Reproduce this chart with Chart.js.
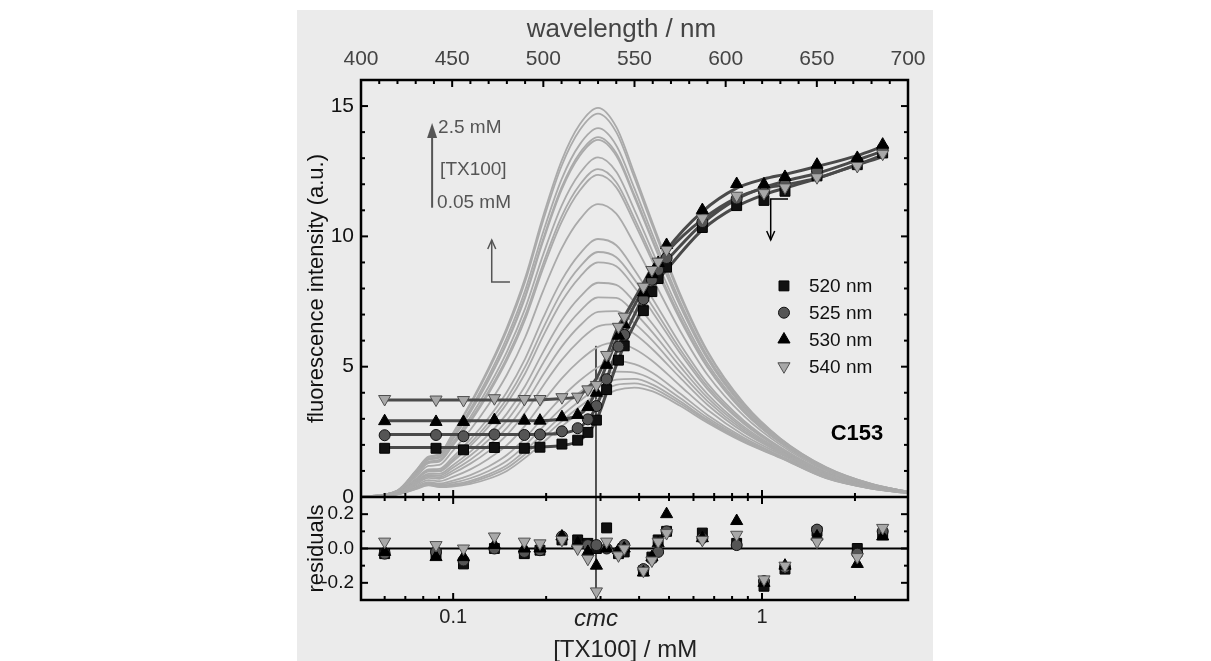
<!DOCTYPE html>
<html>
<head>
<meta charset="utf-8">
<script src="https://cdn.jsdelivr.net/npm/chart.js@4.4.1/dist/chart.umd.min.js"></script>
<style>
  html, body { margin: 0; padding: 0; background: #fff; }
  #panel { position: absolute; left: 297px; top: 10px; width: 636px; height: 651px; background: #ebebeb; }
  #chart { position: absolute; left: 0; top: 0; }
</style>
</head>
<body>
<div id="panel"></div>
<canvas id="chart" width="1211" height="661"></canvas>
<script>
// emission spectra (top axis, nm) for increasing [TX100]
const wavelengths = [400, 420, 430, 437, 443, 450, 460, 470, 480, 490, 500, 510, 520, 530, 540, 550, 560, 575, 590, 610, 630, 655, 680, 700];
const spectra = [
  [0,0.1,0.3,0.45,0.38,0.4,0.5,0.7,1.0,1.5,2.1,2.7,3.25,3.75,4.1,4.2,4.05,3.5,2.85,2.1,1.5,0.72,0.32,0.15],
  [0,0.1,0.31,0.47,0.41,0.44,0.56,0.79,1.11,1.64,2.27,2.9,3.47,3.97,4.3,4.36,4.18,3.59,2.91,2.13,1.52,0.73,0.32,0.15],
  [0,0.11,0.33,0.49,0.43,0.48,0.62,0.87,1.22,1.78,2.45,3.11,3.69,4.2,4.5,4.53,4.31,3.67,2.96,2.16,1.53,0.74,0.33,0.15],
  [0,0.11,0.35,0.53,0.47,0.54,0.72,1.0,1.39,1.98,2.71,3.41,4.02,4.53,4.81,4.77,4.5,3.8,3.04,2.21,1.55,0.75,0.33,0.15],
  [0,0.12,0.38,0.57,0.52,0.62,0.84,1.17,1.61,2.26,3.06,3.82,4.47,4.98,5.21,5.1,4.76,3.97,3.15,2.27,1.58,0.77,0.34,0.16],
  [0,0.13,0.43,0.65,0.61,0.76,1.06,1.47,1.99,2.74,3.67,4.54,5.24,5.76,5.92,5.68,5.21,4.27,3.35,2.37,1.64,0.8,0.35,0.16],
  [0,0.14,0.48,0.73,0.7,0.9,1.28,1.76,2.38,3.23,4.28,5.25,6.01,6.55,6.63,6.25,5.66,4.58,3.54,2.48,1.69,0.83,0.37,0.16],
  [0,0.15,0.51,0.78,0.76,1.0,1.43,1.98,2.65,3.57,4.71,5.76,6.57,7.1,7.13,6.66,5.99,4.79,3.68,2.55,1.73,0.85,0.37,0.17],
  [0,0.15,0.55,0.84,0.82,1.1,1.59,2.19,2.93,3.92,5.15,6.27,7.12,7.66,7.64,7.07,6.31,5.01,3.81,2.63,1.76,0.87,0.38,0.17],
  [0,0.16,0.58,0.89,0.89,1.2,1.74,2.4,3.2,4.26,5.58,6.78,7.67,8.22,8.14,7.48,6.63,5.22,3.95,2.7,1.8,0.89,0.39,0.17],
  [0,0.17,0.63,0.97,0.98,1.34,1.96,2.7,3.59,4.74,6.19,7.49,8.44,9.0,8.85,8.05,7.08,5.52,4.14,2.81,1.85,0.92,0.41,0.17],
  [0,0.18,0.65,1.01,1.02,1.41,2.07,2.85,3.78,4.99,6.49,7.85,8.83,9.4,9.2,8.34,7.31,5.67,4.24,2.86,1.88,0.94,0.41,0.18],
  [0,0.18,0.69,1.06,1.08,1.5,2.21,3.04,4.03,5.3,6.89,8.31,9.33,9.9,9.66,8.71,7.6,5.87,4.36,2.93,1.91,0.96,0.42,0.18],
  [0,0.2,0.77,1.19,1.23,1.74,2.58,3.55,4.69,6.12,7.93,9.53,10.65,11.24,10.87,9.69,8.37,6.38,4.69,3.11,2.0,1.01,0.44,0.18],
  [0,0.22,0.84,1.3,1.36,1.94,2.89,3.97,5.24,6.81,8.8,10.55,11.76,12.36,11.88,10.51,9.02,6.81,4.97,3.26,2.08,1.05,0.46,0.19],
  [0,0.22,0.85,1.32,1.38,1.98,2.95,4.06,5.35,6.95,8.97,10.76,11.98,12.58,12.08,10.68,9.15,6.9,5.02,3.29,2.09,1.06,0.46,0.19],
  [0,0.23,0.88,1.36,1.43,2.06,3.07,4.23,5.57,7.23,9.32,11.17,12.42,13.03,12.48,11.01,9.4,7.07,5.13,3.35,2.12,1.08,0.47,0.19],
  [0,0.23,0.92,1.43,1.51,2.18,3.26,4.48,5.9,7.64,9.84,11.78,13.09,13.7,13.09,11.5,9.79,7.33,5.3,3.44,2.17,1.1,0.48,0.2],
  [0,0.24,0.93,1.44,1.52,2.2,3.29,4.53,5.95,7.71,9.93,11.88,13.2,13.81,13.19,11.58,9.86,7.37,5.33,3.45,2.18,1.11,0.48,0.2],
  [0,0.24,0.95,1.47,1.56,2.26,3.38,4.65,6.12,7.92,10.19,12.19,13.53,14.15,13.49,11.83,10.05,7.5,5.41,3.5,2.2,1.12,0.49,0.2],
  [0,0.25,0.99,1.53,1.62,2.36,3.54,4.87,6.39,8.26,10.63,12.7,14.08,14.71,14.0,12.24,10.37,7.71,5.55,3.57,2.24,1.14,0.5,0.2],
  [0,0.25,1.0,1.55,1.65,2.4,3.6,4.95,6.5,8.4,10.8,12.9,14.3,14.93,14.2,12.4,10.5,7.8,5.6,3.6,2.25,1.15,0.5,0.2]
];

// titration points (bottom axis, mM)
const concentrations = [0.060, 0.088, 0.108, 0.136, 0.170, 0.191, 0.225, 0.253, 0.273, 0.291, 0.314, 0.343, 0.358, 0.413, 0.440, 0.461, 0.491, 0.641, 0.828, 1.015, 1.187, 1.507, 2.035, 2.459];

const int520 = [1.87,1.87,1.81,1.9,1.87,1.91,2.03,2.18,2.48,2.95,4.12,5.25,5.8,7.15,7.88,8.38,8.82,10.34,11.18,11.38,11.73,12.32,12.75,13.2];
const int525 = [2.37,2.38,2.33,2.4,2.38,2.4,2.52,2.64,2.98,3.49,4.52,5.77,6.22,7.59,8.33,8.71,9.17,10.55,11.45,11.69,12.01,12.53,12.9,13.37];
const int530 = [2.91,2.88,2.88,2.95,2.93,2.93,3.06,3.15,3.45,4.0,5.07,6.19,6.62,7.85,8.55,8.98,9.67,11.01,12.01,12.0,12.28,12.75,13.01,13.52];
const int540 = [3.76,3.74,3.72,3.79,3.76,3.76,3.83,3.85,4.13,4.3,5.45,6.53,6.92,8.07,8.71,9.03,9.48,10.7,11.56,11.66,11.88,12.27,12.7,13.17];

const fit520 = [1.9,1.9,1.9,1.9,1.9,1.92,1.98,2.13,2.45,2.95,4.0,5.28,5.82,7.28,7.93,8.33,8.72,10.25,11.15,11.6,11.85,12.22,12.75,13.12];
const fit525 = [2.4,2.4,2.4,2.4,2.4,2.41,2.45,2.62,2.96,3.47,4.52,5.79,6.2,7.71,8.39,8.73,9.07,10.49,11.43,11.88,12.12,12.42,12.93,13.27];
const fit530 = [2.93,2.93,2.93,2.93,2.93,2.93,2.99,3.12,3.47,4.1,5.07,6.2,6.62,7.99,8.6,8.95,9.47,10.95,11.85,12.2,12.38,12.68,13.1,13.45];
const fit540 = [3.72,3.72,3.72,3.72,3.72,3.73,3.78,3.85,4.19,4.55,5.41,6.57,6.92,8.2,8.78,8.99,9.39,10.65,11.48,11.84,11.98,12.23,12.75,13.05];

const res520 = [-0.03,-0.03,-0.09,0.0,-0.03,-0.01,0.05,0.05,0.03,0.0,0.12,-0.03,-0.02,-0.13,-0.05,0.05,0.1,0.09,0.03,-0.22,-0.12,0.1,0.0,0.08];
const res525 = [-0.03,-0.02,-0.07,0.0,-0.02,-0.01,0.07,0.02,0.02,0.02,0.0,-0.02,0.02,-0.12,-0.06,-0.02,0.1,0.06,0.02,-0.19,-0.11,0.11,-0.03,0.1];
const res530 = [-0.02,-0.05,-0.05,0.02,0.0,0.0,0.07,0.03,-0.02,-0.1,0.0,-0.01,0.0,-0.14,-0.05,0.03,0.2,0.06,0.16,-0.2,-0.1,0.07,-0.09,0.07];
const res540 = [0.04,0.02,0.0,0.07,0.04,0.03,0.05,0.0,-0.06,-0.25,0.04,-0.04,0.0,-0.13,-0.07,0.04,0.09,0.05,0.08,-0.18,-0.1,0.04,-0.05,0.12];

const cmc = 0.29;
const cmcLineTop = 5.8;

// ticks
const xTickValues = [0.1, cmc, 1];
const xTickLabels = ['0.1', 'cmc', '1'];
const xMinorTicks = [0.06, 0.07, 0.08, 0.09, 0.2, 0.3, 0.4, 0.5, 0.6, 0.7, 0.8, 0.9, 2];
const yTickValues = [0, 5, 10, 15];
const resTickValues = [-0.2, 0, 0.2];
const resMinorTicks = [-0.1, 0.1];

const FONT = "'Liberation Sans', Arial, sans-serif";
Chart.defaults.font.family = FONT;

const series = [
  {label: '540 nm', data: int540, fit: fit540, res: res540, style: 'triangle', rot: 180, r: 7, fill: '#a8a8a8', stroke: '#505050'},
  {label: '530 nm', data: int530, fit: fit530, res: res530, style: 'triangle', rot: 0, r: 7, fill: '#000000', stroke: '#000000'},
  {label: '525 nm', data: int525, fit: fit525, res: res525, style: 'circle', rot: 0, r: 5.5, fill: '#555555', stroke: '#111111'},
  {label: '520 nm', data: int520, fit: fit520, res: res520, style: 'rect', rot: 0, r: 7, fill: '#111111', stroke: '#000000'}
];

const zip = (xs, ys) => xs.map((v, i) => ({x: v, y: ys[i]}));

const datasets = [];
series.forEach(s => {
  datasets.push({
    label: s.label, data: zip(concentrations, s.data), xAxisID: 'x', yAxisID: 'y',
    pointStyle: s.style, rotation: s.rot, pointRadius: s.r, backgroundColor: s.fill,
    borderColor: s.stroke, pointBorderWidth: 1, order: 1
  });
});
series.forEach(s => {
  datasets.push({
    label: s.label + ' res', data: zip(concentrations, s.res), xAxisID: 'x', yAxisID: 'yRes',
    pointStyle: s.style, rotation: s.rot, pointRadius: s.r, backgroundColor: s.fill,
    borderColor: s.stroke, pointBorderWidth: 1, order: 1
  });
});
series.forEach(s => {
  datasets.push({
    label: s.label + ' fit', data: zip(concentrations, s.fit), xAxisID: 'x', yAxisID: 'y',
    showLine: true, pointRadius: 0, borderColor: '#4a4a4a', borderWidth: 3,
    cubicInterpolationMode: 'monotone', order: 2
  });
});
spectra.forEach((sp, i) => {
  datasets.push({
    label: 'spectrum ' + i, data: zip(wavelengths, sp), xAxisID: 'xTop', yAxisID: 'y',
    showLine: true, pointRadius: 0, borderColor: '#aaaaaa', borderWidth: 1.8,
    cubicInterpolationMode: 'monotone', order: 3
  });
});

function seg(ctx, x1, y1, x2, y2) {
  ctx.beginPath(); ctx.moveTo(x1, y1); ctx.lineTo(x2, y2); ctx.stroke();
}

function marker(ctx, s, x, y) {
  ctx.fillStyle = s.fill; ctx.strokeStyle = s.stroke; ctx.lineWidth = 1;
  ctx.beginPath();
  if (s.style === 'rect') {
    const h = s.r * Math.SQRT1_2;
    ctx.rect(x - h, y - h, 2 * h, 2 * h);
  } else if (s.style === 'circle') {
    ctx.arc(x, y, s.r, 0, Math.PI * 2);
  } else {
    const d = s.rot === 180 ? -1 : 1;
    ctx.moveTo(x, y - d * s.r);
    ctx.lineTo(x + s.r * 0.866, y + d * s.r * 0.5);
    ctx.lineTo(x - s.r * 0.866, y + d * s.r * 0.5);
    ctx.closePath();
  }
  ctx.fill(); ctx.stroke();
}

const framePlugin = {
  id: 'frame',
  beforeDatasetsDraw(chart) {
    const {ctx, chartArea: a} = chart;
    const {x, y, yRes} = chart.scales;
    ctx.save();
    ctx.strokeStyle = '#000'; ctx.lineWidth = 2;
    seg(ctx, a.left, yRes.getPixelForValue(0), a.right, yRes.getPixelForValue(0));
    ctx.strokeStyle = '#505050'; ctx.lineWidth = 2;
    const cx = x.getPixelForValue(cmc);
    seg(ctx, cx, y.getPixelForValue(cmcLineTop), cx, a.bottom);
    ctx.restore();
  },
  afterDatasetsDraw(chart) {
    const {ctx, chartArea: a} = chart;
    const {x, xTop, y, yRes} = chart.scales;
    const split = yRes.top;
    ctx.save();
    ctx.strokeStyle = '#000'; ctx.lineWidth = 2;
    for (let w = 400; w <= 700; w += 10) {
      const px = xTop.getPixelForValue(w);
      seg(ctx, px, a.top, px, a.top + (w % 50 === 0 ? 7 : 4));
    }
    for (let v = 0; v <= 16; v++) {
      const py = y.getPixelForValue(v);
      const len = v % 5 === 0 ? 7 : 4;
      seg(ctx, a.left, py, a.left + len, py);
      seg(ctx, a.right, py, a.right - len, py);
    }
    resTickValues.concat(resMinorTicks).forEach(v => {
      const py = yRes.getPixelForValue(v);
      const len = resTickValues.includes(v) ? 7 : 4;
      seg(ctx, a.left, py, a.left + len, py);
      seg(ctx, a.right, py, a.right - len, py);
    });
    [0.1, 1].concat(xMinorTicks).forEach(v => {
      const px = x.getPixelForValue(v);
      const len = (v === 0.1 || v === 1) ? 7 : 4;
      seg(ctx, px, split - len, px, split + len);
      seg(ctx, px, a.bottom, px, a.bottom - len);
    });
    ctx.lineWidth = 2.5;
    ctx.strokeRect(a.left, a.top, a.right - a.left, a.bottom - a.top);
    seg(ctx, a.left, split, a.right, split);

    // concentration arrow
    ctx.strokeStyle = '#555'; ctx.fillStyle = '#555'; ctx.lineWidth = 2;
    const ax = xTop.getPixelForValue(439);
    const aTop = y.getPixelForValue(14.35), aBot = y.getPixelForValue(11.1);
    seg(ctx, ax, aBot, ax, aTop + 10);
    ctx.beginPath(); ctx.moveTo(ax, aTop); ctx.lineTo(ax + 5, aTop + 15); ctx.lineTo(ax - 5, aTop + 15); ctx.closePath(); ctx.fill();
    ctx.font = '19px ' + FONT; ctx.textAlign = 'left'; ctx.textBaseline = 'middle';
    ctx.fillText('2.5 mM', ax + 6, y.getPixelForValue(14.16));
    ctx.fillText('[TX100]', ax + 8, y.getPixelForValue(12.55));
    ctx.fillText('0.05 mM', ax + 5, y.getPixelForValue(11.28));

    // axis hint for spectra (up / right)
    ctx.lineWidth = 1.5;
    const lx = xTop.getPixelForValue(471.7), lTop = y.getPixelForValue(9.86), lCorner = y.getPixelForValue(8.25);
    const lRight = xTop.getPixelForValue(481.7);
    ctx.beginPath(); ctx.moveTo(lx, lTop); ctx.lineTo(lx, lCorner); ctx.lineTo(lRight, lCorner); ctx.stroke();
    ctx.beginPath(); ctx.moveTo(lx - 4, lTop + 9); ctx.lineTo(lx, lTop); ctx.lineTo(lx + 4, lTop + 9); ctx.stroke();

    // axis hint for titration points (down / bottom)
    ctx.strokeStyle = '#000';
    const rx = x.getPixelForValue(1.067), rEnd = x.getPixelForValue(1.214);
    const rTop = y.getPixelForValue(11.43), rBot = y.getPixelForValue(9.86);
    ctx.beginPath(); ctx.moveTo(rEnd, rTop); ctx.lineTo(rx, rTop); ctx.lineTo(rx, rBot); ctx.stroke();
    ctx.beginPath(); ctx.moveTo(rx - 4, rBot - 9); ctx.lineTo(rx, rBot); ctx.lineTo(rx + 4, rBot - 9); ctx.stroke();

    // legend
    const legendOrder = [3, 2, 1, 0];
    const lgx = x.getPixelForValue(1.178);
    let lgy = y.getPixelForValue(8.1);
    ctx.font = '19px ' + FONT; ctx.textBaseline = 'middle'; ctx.textAlign = 'left';
    legendOrder.forEach(k => {
      const s = series[k];
      marker(ctx, s, lgx, lgy);
      ctx.fillStyle = '#111';
      ctx.fillText(s.label, lgx + 25, lgy + 1);
      lgy += 26.8;
    });

    // dye label
    ctx.font = 'bold 22px ' + FONT; ctx.textAlign = 'center'; ctx.fillStyle = '#000';
    ctx.fillText('C153', x.getPixelForValue(2.03), y.getPixelForValue(2.42));
    ctx.restore();
  }
};

const noGrid = {display: false, drawTicks: false};

new Chart(document.getElementById('chart'), {
  type: 'scatter',
  data: {datasets},
  options: {
    responsive: false,
    animation: false,
    events: [],
    layout: {padding: {left: 297, right: 303, top: 0, bottom: 0}, autoPadding: false},
    plugins: {legend: {display: false}, tooltip: {enabled: false}},
    scales: {
      x: {
        type: 'logarithmic', position: 'bottom', min: 0.0503, max: 2.97,
        grid: noGrid, border: {display: false},
        afterBuildTicks: s => { s.ticks = xTickValues.map(v => ({value: v})); },
        ticks: {
          padding: 5, color: '#222', autoSkip: false, maxRotation: 0,
          font: c => (c.tick && c.tick.value === cmc) ? {size: 24, style: 'italic'} : {size: 20, style: 'normal'},
          callback: (v, i) => xTickLabels[i]
        },
        title: {display: true, text: '[TX100] / mM\u2002 ', color: '#222', font: {size: 24, lineHeight: 0.92}, padding: 0},
        afterFit: s => { s.height = 61; }
      },
      xTop: {
        type: 'linear', position: 'top', min: 400, max: 700,
        grid: noGrid, border: {display: false},
        ticks: {stepSize: 50, padding: 8, color: '#444', font: {size: 21}, maxRotation: 0},
        title: {display: true, text: 'wavelength / nm\u2002\u2002', color: '#444', font: {size: 26}, padding: {top: 14, bottom: 0}},
        afterFit: s => { s.height = 80; }
      },
      y: {
        type: 'linear', position: 'left', stack: 'left', stackWeight: 417, weight: 2, min: 0, max: 16,
        grid: noGrid, border: {display: false},
        afterBuildTicks: s => { s.ticks = yTickValues.map(v => ({value: v})); },
        ticks: {padding: 7, color: '#111', font: {size: 21}},
        title: {display: true, text: 'fluorescence intensity (a.u.)', color: '#111', font: {size: 22}, padding: {top: 7, bottom: 0}},
        afterFit: s => { s.width = 64; }
      },
      yRes: {
        type: 'linear', position: 'left', stack: 'left', stackWeight: 103, weight: 1, min: -0.3, max: 0.3,
        grid: noGrid, border: {display: false},
        afterBuildTicks: s => { s.ticks = resTickValues.map(v => ({value: v})); },
        ticks: {padding: 7, color: '#111', font: {size: 19}, callback: v => Number(v).toFixed(1)},
        title: {display: true, text: 'residuals', color: '#111', font: {size: 22}, padding: {top: 7, bottom: 0}},
        afterFit: s => { s.width = 64; }
      }
    }
  },
  plugins: [framePlugin]
});
</script>
</body>
</html>
